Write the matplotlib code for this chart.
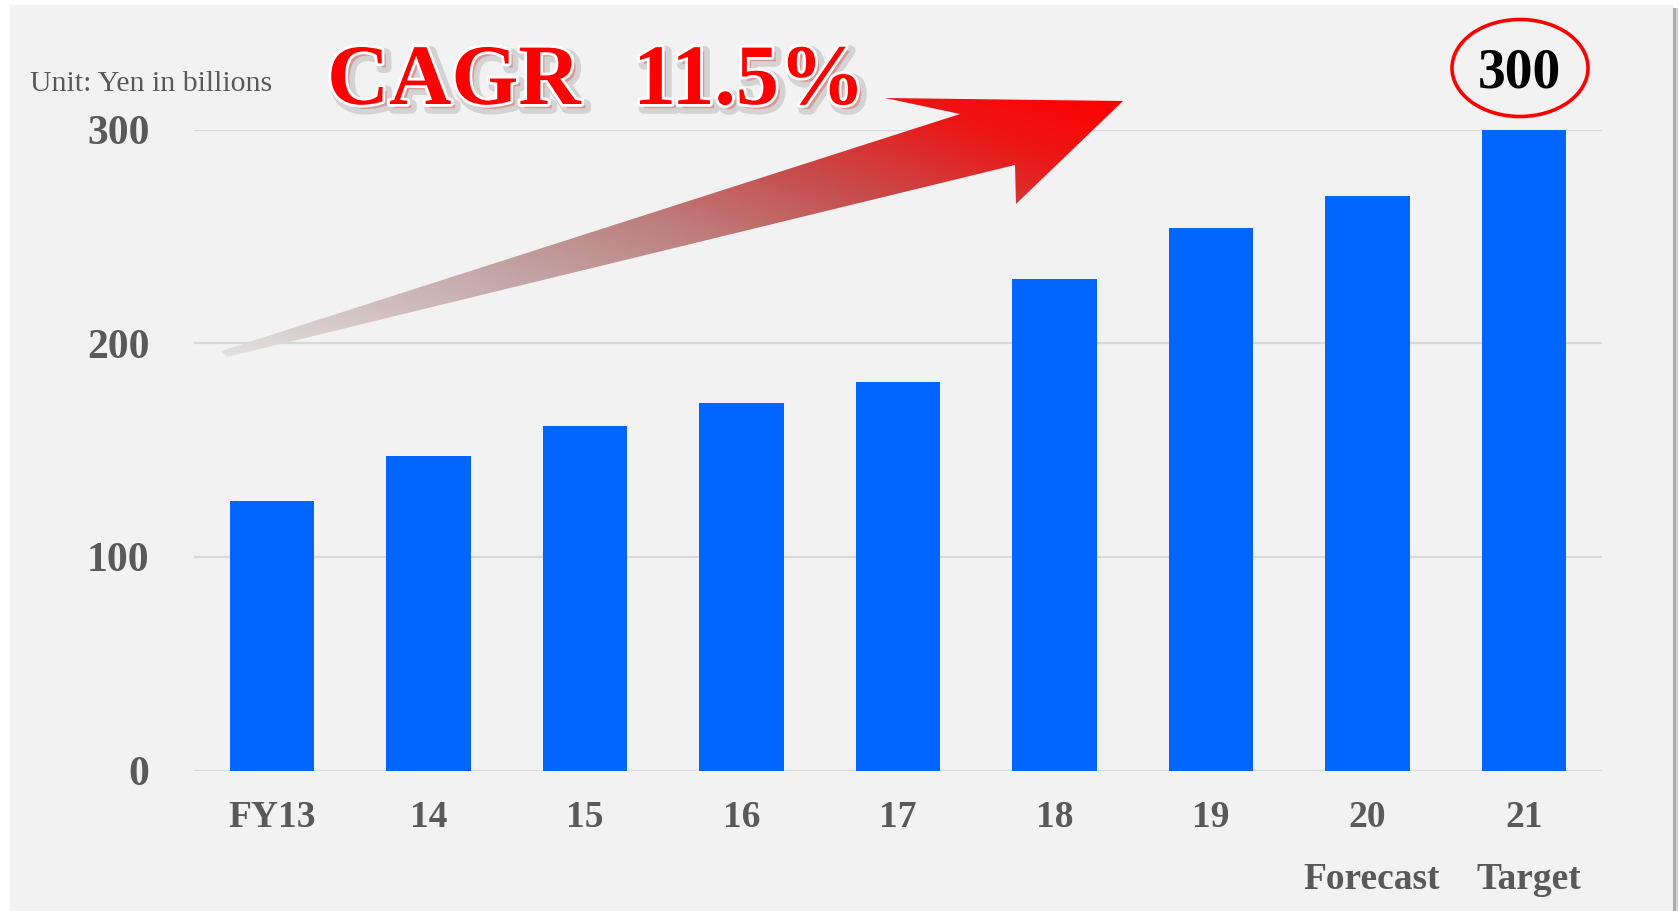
import numpy as np
import matplotlib
matplotlib.use("Agg")
import matplotlib.pyplot as plt
from matplotlib.patches import Rectangle, Polygon, Ellipse
from matplotlib.colors import LinearSegmentedColormap
import matplotlib.patheffects as pe

# ---- data ----
categories = ["FY13", "14", "15", "16", "17", "18", "19", "20", "21"]
sublabels = ["", "", "", "", "", "", "", "Forecast", "Target"]
sales = [126, 147, 161, 172, 182, 230, 254, 269, 300]
y_ticks = [0, 100, 200, 300]
cagr_label = "CAGR"
cagr_value = "11.5%"
target_text = "300"
unit_text = "Unit: Yen in billions"

# ---- style ----
SERIF = "Liberation Serif"
BAR = "#0066FF"
GREY_TXT = "#595959"
GRID = "#D9D9D9"
PANEL = "#F2F2F2"

W, H = 1681, 911
fig = plt.figure(figsize=(W / 100, H / 100), dpi=100)
fig.patch.set_facecolor("white")

# background panel with a soft right-hand shadow (pixel coordinates)
bg = fig.add_axes([0, 0, 1, 1], zorder=0)
bg.set_xlim(0, W)
bg.set_ylim(H, 0)
bg.axis("off")
bg.add_patch(Rectangle((1673, 8), 3, H, color="#ABABAB", lw=0))
bg.add_patch(Rectangle((1676, 8), 2, H, color="#D4D4D4", lw=0))
bg.add_patch(Rectangle((10, 5), 1663, H, color=PANEL, lw=0))

# main bar chart
left, right, top, bottom = 194, 1602, 129.5, 770.5
ax = fig.add_axes([left / W, (H - bottom) / H, (right - left) / W, (bottom - top) / H], zorder=1)
ax.set_facecolor("none")
x = np.arange(len(categories))
ax.bar(x, sales, width=0.54, color=BAR, zorder=2)
ax.set_xlim(-0.5, len(categories) - 0.5)
ax.set_ylim(0, 300)
ax.set_yticks(y_ticks)
ax.set_xticks(x)
ax.set_xticklabels(categories)
ax.yaxis.grid(True, color=GRID, lw=1.6, zorder=0)
ax.set_axisbelow(True)
for s in ax.spines.values():
    s.set_visible(False)
ax.tick_params(axis="both", length=0)
ax.tick_params(axis="y", pad=32)
ax.tick_params(axis="x", pad=21)
for lab in ax.get_yticklabels():
    lab.set_fontfamily(SERIF)
    lab.set_fontweight("bold")
    lab.set_fontsize(30)
    lab.set_color(GREY_TXT)
for lab in ax.get_xticklabels():
    lab.set_fontfamily(SERIF)
    lab.set_fontweight("bold")
    lab.set_fontsize(27)
    lab.set_color(GREY_TXT)

# second line under the last two categories
trans = ax.get_xaxis_transform()
for xi, sub in zip(x, sublabels):
    if sub:
        ax.text(xi + 0.03, -0.185, sub, transform=trans, ha="center", va="baseline",
                fontfamily=SERIF, fontweight="bold", fontsize=27, color=GREY_TXT,
                clip_on=False)

# overlay for annotations (pixel coordinates)
ov = fig.add_axes([0, 0, 1, 1], zorder=3)
ov.set_facecolor("none")
ov.axis("off")

# gradient growth arrow
arrow_pts = np.array([
    (221, 351), (960, 114), (885, 98), (1123, 101),
    (1016, 204), (1015, 165), (227, 357),
])
arrow = Polygon(arrow_pts, closed=True, transform=ov.transData, facecolor="none", edgecolor="none")
ov.add_patch(arrow)
x0, x1 = arrow_pts[:, 0].min() - 5, arrow_pts[:, 0].max() + 5
y0, y1 = arrow_pts[:, 1].min() - 5, arrow_pts[:, 1].max() + 5
gx, gy = np.meshgrid(np.linspace(x0, x1, 700), np.linspace(y0, y1, 300))
ang = np.deg2rad(70)
v = np.array([np.cos(ang), -np.sin(ang)])
proj = gx * v[0] + gy * v[1]
p_lo = (arrow_pts @ v).min()
p_hi = (arrow_pts @ v).max()
t = np.clip((proj - p_lo) / (p_hi - p_lo), 0, 1)
cmap = LinearSegmentedColormap.from_list(
    "grow", [(0.0, "#E2E0E0"), (0.32, "#C3A5A5"), (0.5, "#BE7E7E"),
             (0.68, "#C84B4B"), (0.86, "#EC1616"), (1.0, "#FF0000")])
img = ov.imshow(t, extent=[x0, x1, y1, y0], cmap=cmap, vmin=0, vmax=1,
                aspect="auto", interpolation="bilinear")
img.set_clip_path(arrow)

# headline text with a soft shadow
headline_fx = [pe.Stroke(linewidth=8, foreground="#9A9A9A", alpha=0.35, offset=(3, -3)),
               pe.Stroke(linewidth=4, foreground="white"),
               pe.Normal()]
ov.text(327, 104, cagr_label, fontfamily=SERIF, fontweight="bold", fontsize=62,
        color="#FF0000", ha="left", va="baseline", path_effects=headline_fx)
ov.text(633, 104, cagr_value, fontfamily=SERIF, fontweight="bold", fontsize=62,
        color="#FF0000", ha="left", va="baseline", path_effects=headline_fx)

# unit note
ov.text(30, 91, unit_text, fontfamily=SERIF, fontsize=21.5, color=GREY_TXT,
        ha="left", va="baseline")

# circled target value
ov.add_patch(Ellipse((1520, 68), 136, 97, facecolor="none", edgecolor="#FF0000", lw=2.6))
ov.text(1519, 88, target_text, fontfamily=SERIF, fontweight="bold", fontsize=40,
        color="black", ha="center", va="baseline")

ov.set_xlim(0, W)
ov.set_ylim(H, 0)

fig.savefig("out.png", dpi=100)
